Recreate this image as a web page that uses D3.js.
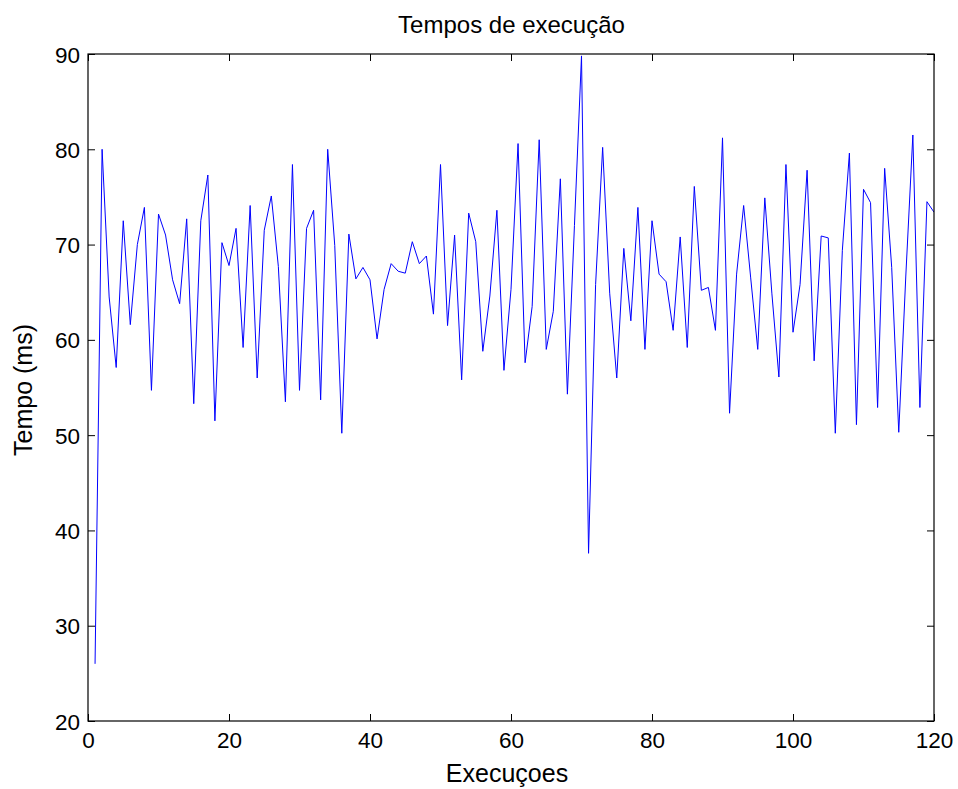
<!DOCTYPE html>
<html>
<head>
<meta charset="utf-8">
<script src="https://cdn.jsdelivr.net/npm/d3@7"></script>
<style>
  html, body { margin: 0; padding: 0; background: #fff; }
  svg text { font-family: "Liberation Sans", Arial, Helvetica, sans-serif; fill: #000; }
</style>
</head>
<body>
<svg id="chart" width="958" height="789"></svg>
<script>
const title = "Tempos de execução";
const xLabel = "Execuçoes";
const yLabel = "Tempo (ms)";
const xTicks = [0, 20, 40, 60, 80, 100, 120];
const yTicks = [20, 30, 40, 50, 60, 70, 80, 90];
const tempos = [
  26.0, 80.0, 64.5, 57.1, 72.5, 61.6, 70.0, 73.9, 54.7, 73.2,
  71.0, 66.3, 63.8, 72.7, 53.3, 72.5, 77.3, 51.5, 70.2, 67.8,
  71.7, 59.2, 74.1, 56.0, 71.5, 75.1, 67.7, 53.5, 78.4, 54.7,
  71.7, 73.6, 53.7, 80.0, 69.9, 50.2, 71.1, 66.4, 67.6, 66.3,
  60.1, 65.3, 68.0, 67.2, 67.0, 70.3, 68.0, 68.8, 62.7, 78.4,
  61.5, 71.0, 55.8, 73.3, 70.3, 58.8, 64.6, 73.6, 56.8, 65.3,
  80.6, 57.6, 63.5, 81.0, 59.0, 63.0, 76.9, 54.3, 72.0, 89.8,
  37.6, 65.8, 80.2, 64.9, 56.0, 69.6, 62.0, 73.9, 59.0, 72.5,
  66.9, 66.1, 61.0, 70.8, 59.2, 76.1, 65.2, 65.5, 61.0, 81.2,
  52.3, 66.9, 74.1, 66.5, 59.0, 74.9, 64.9, 56.1, 78.4, 60.8,
  65.8, 77.8, 57.8, 70.9, 70.7, 50.2, 69.4, 79.6, 51.1, 75.8,
  74.4, 52.9, 78.0, 67.6, 50.3, 66.7, 81.5, 52.9, 74.5, 73.4
];
const runs = tempos.map((_, i) => i + 1);

const svg = d3.select("#chart");
const L = 88, R = 934, T = 54, B = 721;
const x = d3.scaleLinear().domain([0, 120]).range([L, R]);
const y = d3.scaleLinear().domain([20, 90]).range([B, T]);
const tick = 7;

const g = svg.append("g");

svg.append("clipPath").attr("id", "clip").append("rect")
  .attr("x", L).attr("y", T).attr("width", R - L).attr("height", B - T);
g.append("path")
  .datum(runs.map((r, i) => [r, tempos[i]]))
  .attr("clip-path", "url(#clip)")
  .attr("fill", "none")
  .attr("stroke", "#0000ff")
  .attr("stroke-width", 1)
  .attr("d", d3.line().x(d => x(d[0])).y(d => y(d[1])));

const fmt = d3.format("d");
const axB = g.append("g").attr("transform", `translate(0,${B})`)
  .call(d3.axisBottom(x).tickValues(xTicks).tickFormat(fmt).tickSizeInner(-tick).tickSizeOuter(0));
const axT = g.append("g").attr("transform", `translate(0,${T})`)
  .call(d3.axisTop(x).tickValues(xTicks).tickFormat("").tickSizeInner(-tick).tickSizeOuter(0));
const axL = g.append("g").attr("transform", `translate(${L},0)`)
  .call(d3.axisLeft(y).tickValues(yTicks).tickFormat(fmt).tickSizeInner(-tick).tickSizeOuter(0));
const axR = g.append("g").attr("transform", `translate(${R},0)`)
  .call(d3.axisRight(y).tickValues(yTicks).tickFormat("").tickSizeInner(-tick).tickSizeOuter(0));

[axB, axT, axL, axR].forEach(a => {
  a.select(".domain").remove();
  a.selectAll("line").attr("stroke", "#000").attr("stroke-width", 1);
  a.selectAll("text").attr("font-size", 22.5).attr("font-family", "Liberation Sans, Arial, sans-serif").attr("fill", "#000");
});
axB.selectAll("text").attr("y", 27).attr("dy", 0);
axL.selectAll("text").attr("x", -8).attr("dy", "0.36em");

g.append("rect").attr("x", L).attr("y", T).attr("width", R - L).attr("height", B - T)
  .attr("fill", "none").attr("stroke", "#000").attr("stroke-width", 1.2);

svg.append("text").attr("x", (L + R) / 2 + 0.5).attr("y", 33).attr("text-anchor", "middle")
  .attr("font-size", 24).text(title);
svg.append("text").attr("x", (L + R) / 2 - 4).attr("y", 782).attr("text-anchor", "middle")
  .attr("font-size", 25).text(xLabel);
svg.append("text").attr("transform", `translate(32,390) rotate(-90)`)
  .attr("text-anchor", "middle").attr("font-size", 25).text(yLabel);
</script>
</body>
</html>
